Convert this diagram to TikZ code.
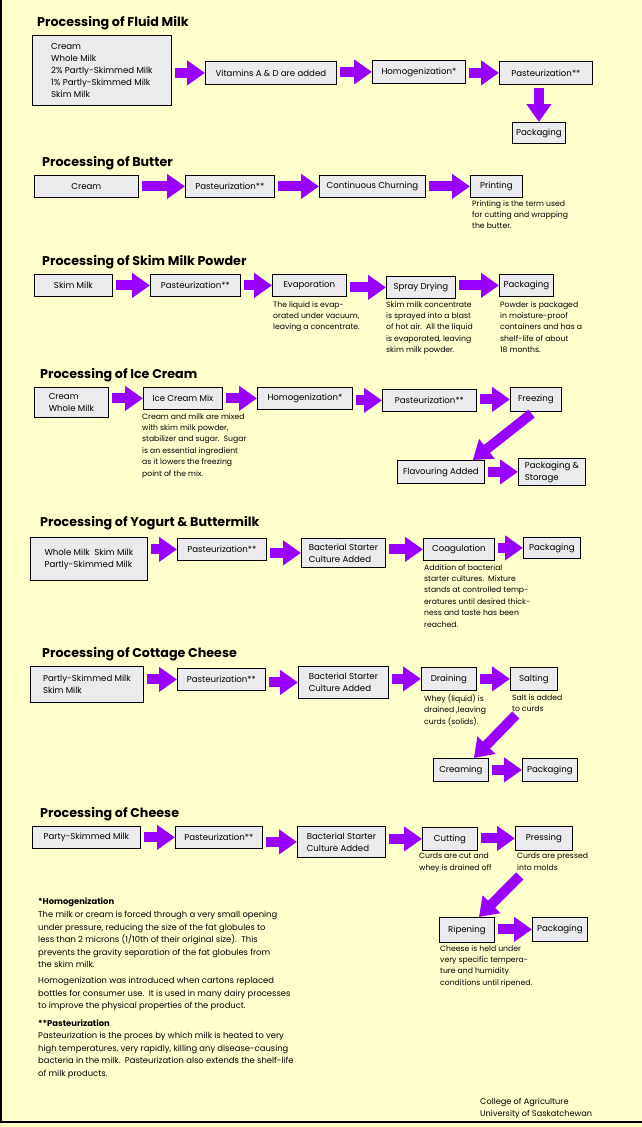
\documentclass[tikz,border=0pt]{standalone}
\usepackage{fontspec}
\setmainfont{Poppins}
\usetikzlibrary{arrows.meta}

\definecolor{paper}{HTML}{FFFFCC}
\definecolor{boxgray}{HTML}{EBEBEE}
\definecolor{flow}{HTML}{9900FF}

\tikzset{
  proc/.style={draw=black, fill=boxgray, line width=0.8pt, anchor=north west, inner sep=2pt,
    font=\fontsize{8.6}{12}\selectfont},
  flowarrow/.style={draw=flow, line width=10pt, -{Triangle[length=18pt 0, width=24pt 0]},
    shorten <=3pt},
  heading/.style={anchor=base west, inner sep=0pt, font=\fontsize{12.7}{14}\selectfont\bfseries},
  note/.style={anchor=north west, inner sep=0pt, align=left, font=\fontsize{7.7}{11.4}\selectfont},
  foot/.style={anchor=north west, inner sep=0pt, align=left, font=\fontsize{8.4}{12.5}\selectfont},
}

\begin{document}
\begin{tikzpicture}[x=1pt, y=-1pt]
  \useasboundingbox (0,0) rectangle (642,1127);
  \fill[paper] (0,0) rectangle (642,1127);
  \draw[line width=1.5pt] (1,0) -- (1,1122) -- (642,1122);

  % fluid milk
  \node[heading] (fmTitle) at (37,26) {Processing of Fluid Milk};
  \node[proc, align=left, minimum width=139pt, minimum height=70pt] (fmSrc) at (32,35)
    {Cream\\Whole Milk\\2\% Partly-Skimmed Milk\\1\% Partly-Skimmed Milk\\Skim Milk};
  \node[proc, minimum width=131pt, minimum height=23pt] (fmVit) at (205,61) {Vitamins A \& D are added};
  \node[proc, minimum width=93pt, minimum height=23pt] (fmHom) at (372,60) {Homogenization*};
  \node[proc, minimum width=93pt, minimum height=23pt] (fmPast) at (499,61) {Pasteurization**};
  \node[proc, minimum width=53pt, minimum height=21pt] (fmPack) at (512,122) {Packaging};
  \draw[flowarrow] (fmSrc.east |- fmVit.west) -- (fmVit.west);
  \draw[flowarrow] (fmVit.east |- fmHom.west) -- (fmHom.west);
  \draw[flowarrow] (fmHom.east |- fmPast.west) -- (fmPast.west);
  \draw[flowarrow] (fmPack.north |- fmPast.south) -- (fmPack.north);

  % butter
  \node[heading] (btTitle) at (42,166) {Processing of Butter};
  \node[proc, minimum width=104pt, minimum height=22pt] (btCream) at (34,175) {Cream};
  \node[proc, minimum width=89pt, minimum height=22pt] (btPast) at (185,175) {Pasteurization**};
  \node[proc, minimum width=106pt, minimum height=22pt] (btChurn) at (319,175) {Continuous Churning};
  \node[proc, minimum width=52pt, minimum height=22pt] (btPrint) at (470,175) {Printing};
  \node[note] (btNote) at (472,200) {Printing is the term used\\for cutting and wrapping\\the butter.};
  \draw[flowarrow] (btCream.east |- btPast.west) -- (btPast.west);
  \draw[flowarrow] (btPast.east |- btChurn.west) -- (btChurn.west);
  \draw[flowarrow] (btChurn.east |- btPrint.west) -- (btPrint.west);

  % skim milk powder
  \node[heading] (smTitle) at (42,265) {Processing of Skim Milk Powder};
  \node[proc, minimum width=78pt, minimum height=22pt] (smSkim) at (34,274) {Skim Milk};
  \node[proc, minimum width=90pt, minimum height=22pt] (smPast) at (150,274) {Pasteurization**};
  \node[proc, minimum width=74pt, minimum height=22pt] (smEvap) at (272,274) {Evaporation};
  \node[proc, minimum width=69pt, minimum height=22pt] (smSpray) at (386,276) {Spray Drying};
  \node[proc, minimum width=54pt, minimum height=22pt] (smPack) at (499,274) {Packaging};
  \node[note] (smNoteA) at (273,301) {The liquid is evap-\\orated under vacuum,\\leaving a concentrate.};
  \node[note] (smNoteB) at (386,301) {Skim milk concentrate\\is sprayed into a blast\\of hot air.\ \ All the liquid\\is evaporated, leaving\\skim milk powder.};
  \node[note] (smNoteC) at (500,301) {Powder is packaged\\in moisture-proof\\containers and has a\\shelf-life of about\\ 18 months.};
  \draw[flowarrow] (smSkim.east |- smPast.west) -- (smPast.west);
  \draw[flowarrow] (smPast.east |- smEvap.west) -- (smEvap.west);
  \draw[flowarrow] (smEvap.east |- smSpray.west) -- (smSpray.west);
  \draw[flowarrow] (smSpray.east |- smPack.west) -- (smPack.west);

  % ice cream
  \node[heading] (icTitle) at (40,378) {Processing of Ice Cream};
  \node[proc, align=left, minimum width=74pt, minimum height=30pt] (icSrc) at (34,387) {Cream\\Whole Milk};
  \node[proc, minimum width=79pt, minimum height=22pt] (icMix) at (143,387) {Ice Cream Mix};
  \node[proc, minimum width=95pt, minimum height=22pt] (icHom) at (257,387) {Homogenization*};
  \node[proc, minimum width=94pt, minimum height=22pt] (icPast) at (382,389) {Pasteurization**};
  \node[proc, minimum width=51pt, minimum height=24pt] (icFreeze) at (510,387) {Freezing};
  \node[proc, minimum width=87pt, minimum height=23pt] (icFlav) at (397,460) {Flavouring Added};
  \node[proc, align=left, minimum width=67pt, minimum height=27pt] (icPack) at (518,458) {Packaging \&\\Storage};
  \node[note] (icNote) at (142,413) {Cream and milk are mixed\\with skim milk powder,\\stabilizer and sugar.\ \ Sugar\\is an essential ingredient\\as it lowers the freezing\\point of the mix.};
  \draw[flowarrow] (icSrc.east |- icMix.west) -- (icMix.west);
  \draw[flowarrow] (icMix.east |- icHom.west) -- (icHom.west);
  \draw[flowarrow] (icHom.east |- icPast.west) -- (icPast.west);
  \draw[flowarrow] (icPast.east |- icFreeze.west) -- (icFreeze.west);
  \draw[flowarrow] ([xshift=-2pt]icFreeze.south) -- ([xshift=-12pt]icFlav.north east);
  \draw[flowarrow] (icFlav.east |- icPack.west) -- (icPack.west);

  % yogurt and buttermilk
  \node[heading] (yoTitle) at (40,526) {Processing of Yogurt \& Buttermilk};
  \node[proc, align=left, minimum width=117pt, minimum height=43pt] (yoSrc) at (30,537) {Whole Milk\ \ Skim Milk\\Partly-Skimmed Milk};
  \node[proc, minimum width=89pt, minimum height=22pt] (yoPast) at (177,538) {Pasteurization**};
  \node[proc, align=left, minimum width=84pt, minimum height=29pt] (yoBact) at (301,538) {Bacterial Starter\\Culture Added};
  \node[proc, minimum width=71pt, minimum height=22pt] (yoCoag) at (423,538) {Coagulation};
  \node[proc, minimum width=57pt, minimum height=21pt] (yoPack) at (523,537) {Packaging};
  \node[note] (yoNote) at (424,564) {Addition of bacterial\\starter cultures.\ \ Mixture\\stands at controlled temp-\\eratures until desired thick-\\ness and taste has been\\reached.};
  \draw[flowarrow] (yoSrc.east |- yoPast.west) -- (yoPast.west);
  \draw[flowarrow] (yoPast.east |- yoBact.west) -- (yoBact.west);
  \draw[flowarrow] (yoBact.east |- yoCoag.west) -- (yoCoag.west);
  \draw[flowarrow] (yoCoag.east |- yoPack.west) -- (yoPack.west);

  % cottage cheese
  \node[heading] (ccTitle) at (42,657) {Processing of Cottage Cheese};
  \node[proc, align=left, minimum width=113pt, minimum height=36pt] (ccSrc) at (30,666) {Partly-Skimmed Milk\\Skim Milk};
  \node[proc, minimum width=88pt, minimum height=22pt] (ccPast) at (177,668) {Pasteurization**};
  \node[proc, align=left, minimum width=90pt, minimum height=32pt] (ccBact) at (298,666) {Bacterial Starter\\Culture Added};
  \node[proc, minimum width=55pt, minimum height=23pt] (ccDrain) at (421,667) {Draining};
  \node[proc, minimum width=47pt, minimum height=23pt] (ccSalt) at (510,667) {Salting};
  \node[proc, minimum width=55pt, minimum height=23pt] (ccCream) at (433,758) {Creaming};
  \node[proc, minimum width=55pt, minimum height=23pt] (ccPack) at (522,758) {Packaging};
  \node[note] (ccNoteA) at (424,694) {Whey (liquid) is\\drained ,leaving\\curds (solids).};
  \node[note] (ccNoteB) at (512,694) {Salt is added\\to curds};
  \draw[flowarrow] (ccSrc.east |- ccPast.west) -- (ccPast.west);
  \draw[flowarrow] (ccPast.east |- ccBact.west) -- (ccBact.west);
  \draw[flowarrow] (ccBact.east |- ccDrain.west) -- (ccDrain.west);
  \draw[flowarrow] (ccDrain.east |- ccSalt.west) -- (ccSalt.west);
  \draw[flowarrow] ([xshift=-16pt,yshift=-22pt]ccSalt.south) -- ([xshift=13pt]ccCream.north);
  \draw[flowarrow] (ccCream.east |- ccPack.west) -- (ccPack.west);

  % cheese
  \node[heading] (chTitle) at (40,817) {Processing of Cheese};
  \node[proc, minimum width=108pt, minimum height=22pt] (chSrc) at (32,826) {Party-Skimmed Milk};
  \node[proc, minimum width=87pt, minimum height=22pt] (chPast) at (175,826) {Pasteurization**};
  \node[proc, align=left, minimum width=88pt, minimum height=31pt] (chBact) at (297,826) {Bacterial Starter\\Culture Added};
  \node[proc, minimum width=55pt, minimum height=23pt] (chCut) at (422,827) {Cutting};
  \node[proc, minimum width=57pt, minimum height=24pt] (chPress) at (515,826) {Pressing};
  \node[proc, minimum width=55pt, minimum height=25pt] (chRipe) at (439,917) {Ripening};
  \node[proc, minimum width=55pt, minimum height=24pt] (chPack) at (532,917) {Packaging};
  \node[note] (chNoteA) at (419,853) {Curds are cut and\\whey is drained off};
  \node[note] (chNoteB) at (517,853) {Curds are pressed\\into molds};
  \node[note] (chNoteC) at (440,945) {Cheese is held under\\very specific tempera-\\ture and humidity\\conditions until ripened.};
  \draw[flowarrow] (chSrc.east |- chPast.west) -- (chPast.west);
  \draw[flowarrow] (chPast.east |- chBact.west) -- (chBact.west);
  \draw[flowarrow] (chBact.east |- chCut.west) -- (chCut.west);
  \draw[flowarrow] (chCut.east |- chPress.west) -- (chPress.west);
  \draw[flowarrow] ([xshift=-22pt,yshift=-23pt]chPress.south) -- ([xshift=12pt]chRipe.north);
  \draw[flowarrow] (chRipe.east |- chPack.west) -- (chPack.west);

  % footnotes
  \node[foot, font=\fontsize{8.4}{12.5}\selectfont\bfseries] (hmHead) at (38,898) {*Homogenization};
  \node[foot] (hmText) at (38,911) {The milk or cream is forced through a very small opening\\under pressure, reducing the size of the fat globules to\\less than 2 microns (1/10th of their original size).\ \ This\\prevents the gravity separation of the fat globules from\\the skim milk.};
  \node[foot] (hmMore) at (38,977) {Homogenization was introduced when cartons replaced\\bottles for consumer use.\ \ It is used in many dairy processes\\to improve the physical properties of the product.};
  \node[foot, font=\fontsize{8.4}{12.5}\selectfont\bfseries] (paHead) at (38,1020) {**Pasteurization};
  \node[foot] (paText) at (38,1032) {Pasteurization is the proces by which milk is heated to very\\high temperatures, very rapidly, killing any disease-causing\\bacteria in the milk.\ \ Pasteurization also extends the shelf-life\\of milk products.};
  \node[note, font=\fontsize{8.2}{12.5}\selectfont] (credit) at (480,1098) {College of Agriculture\\University of Saskatchewan};
\end{tikzpicture}
\end{document}
